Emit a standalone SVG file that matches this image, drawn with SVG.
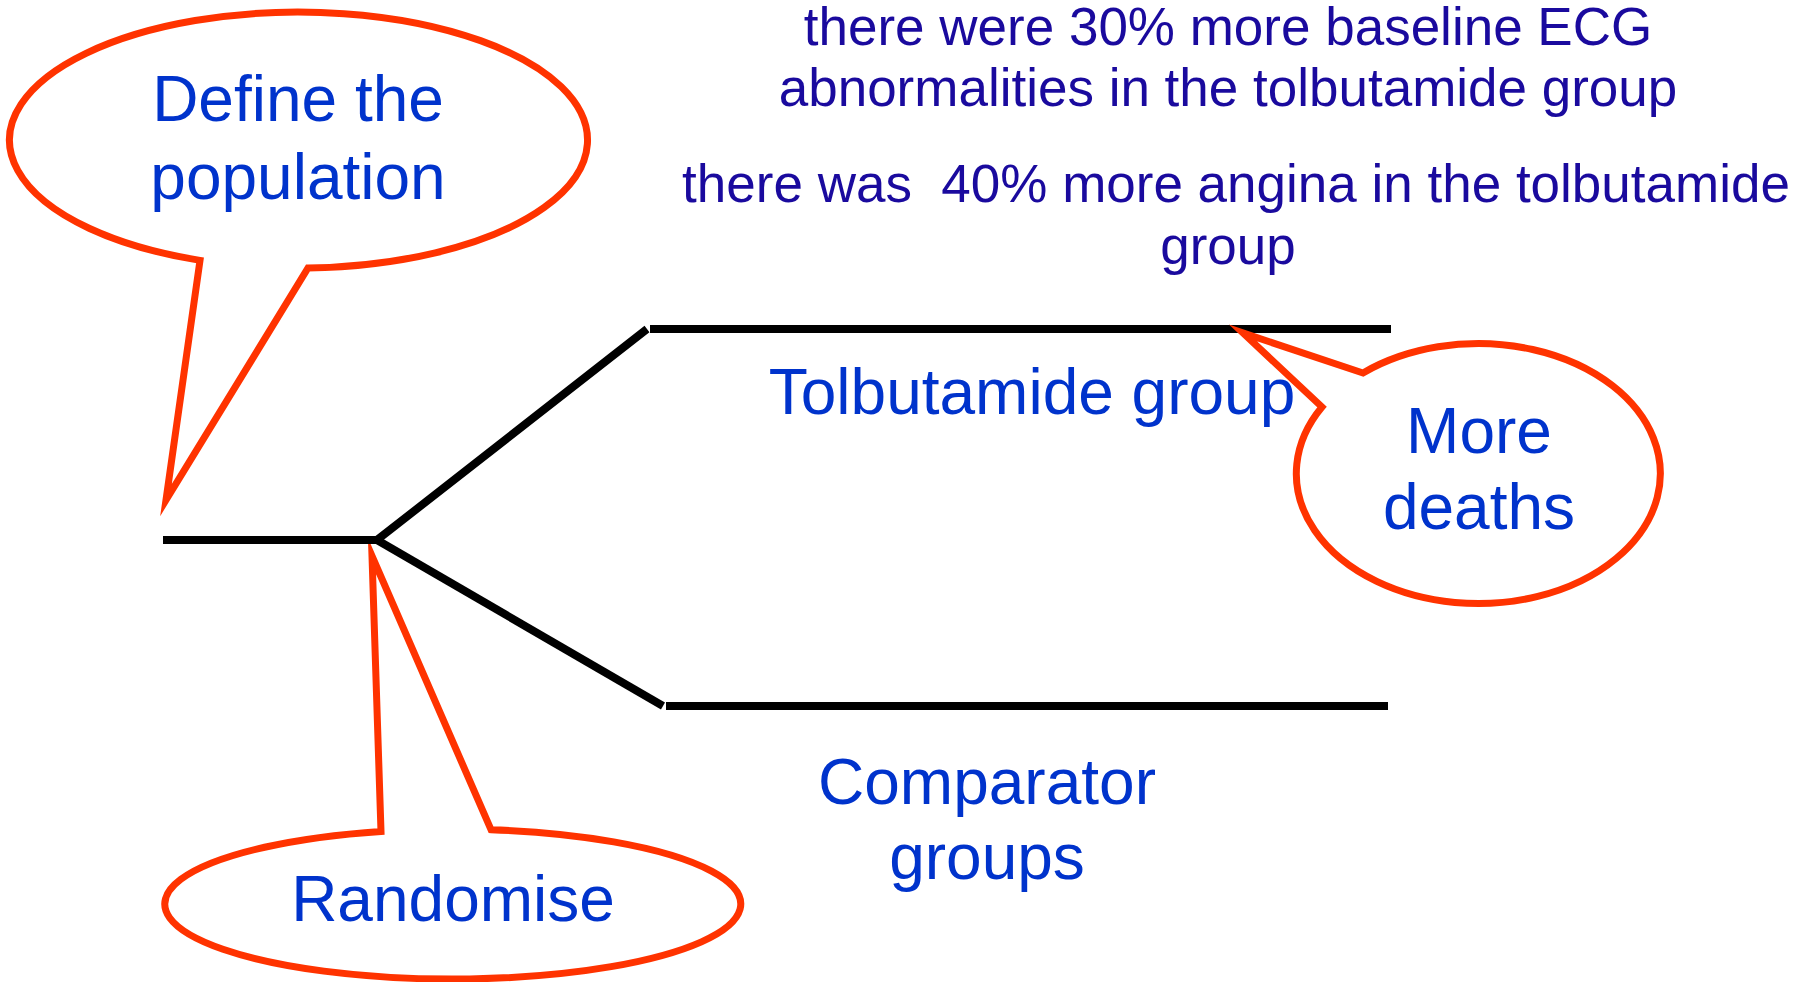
<svg xmlns="http://www.w3.org/2000/svg" width="1814" height="982" viewBox="0 0 1814 982">
<style>
.bubble{fill:#ffffff;stroke:#ff3300;stroke-width:7;stroke-linejoin:miter;stroke-miterlimit:20}
.line{fill:none;stroke:#000000;stroke-width:8;stroke-linecap:butt;stroke-linejoin:miter}
.lbl{font-family:"Liberation Sans",Arial,sans-serif;font-size:64px;fill:#0033cc;text-anchor:middle}
.note{font-family:"Liberation Sans",Arial,sans-serif;font-size:53px;fill:#1a0a9e;text-anchor:middle;white-space:pre}
</style>
<rect width="1814" height="982" fill="#ffffff"/>
<g id="randomise-bubble">
<path class="bubble" d="M 381 831.4 L 372 556 L 491 829.7 A 288 75 0 1 1 381 831.4 Z"/>
<text class="lbl" x="453" y="921">Randomise</text>
</g>
<g id="connectors">
<polyline class="line" points="163,540 377,540 647,329"/>
<polyline class="line" points="377,540 663,706"/>
<line class="line" x1="650" y1="329" x2="1391" y2="329"/>
<line class="line" x1="666" y1="706" x2="1388" y2="706"/>
</g>
<g id="tolbutamide-label">
<text class="lbl" x="1032" y="414">Tolbutamide group</text>
</g>
<g id="comparator-label">
<text class="lbl" x="987" y="804">Comparator</text>
<text class="lbl" x="987" y="879">groups</text>
</g>
<g id="notes">
<text class="note" x="1228" y="45">there were 30% more baseline ECG</text>
<text class="note" x="1228" y="106">abnormalities in the tolbutamide group</text>
<text class="note" x="1236" y="202" xml:space="preserve">there was  40% more angina in the tolbutamide</text>
<text class="note" x="1228" y="264">group</text>
</g>
<g id="define-bubble">
<path class="bubble" d="M 308 268 A 289 128 0 1 0 200 260.4 L 166 500 Z"/>
<text class="lbl" x="298" y="121">Define the</text>
<text class="lbl" x="298" y="199">population</text>
</g>
<g id="deaths-bubble">
<path class="bubble" d="M 1363 373 L 1243 333 L 1322 407 A 182 130 0 1 0 1363 373 Z"/>
<text class="lbl" x="1479" y="453">More</text>
<text class="lbl" x="1479" y="529">deaths</text>
</g>
</svg>
